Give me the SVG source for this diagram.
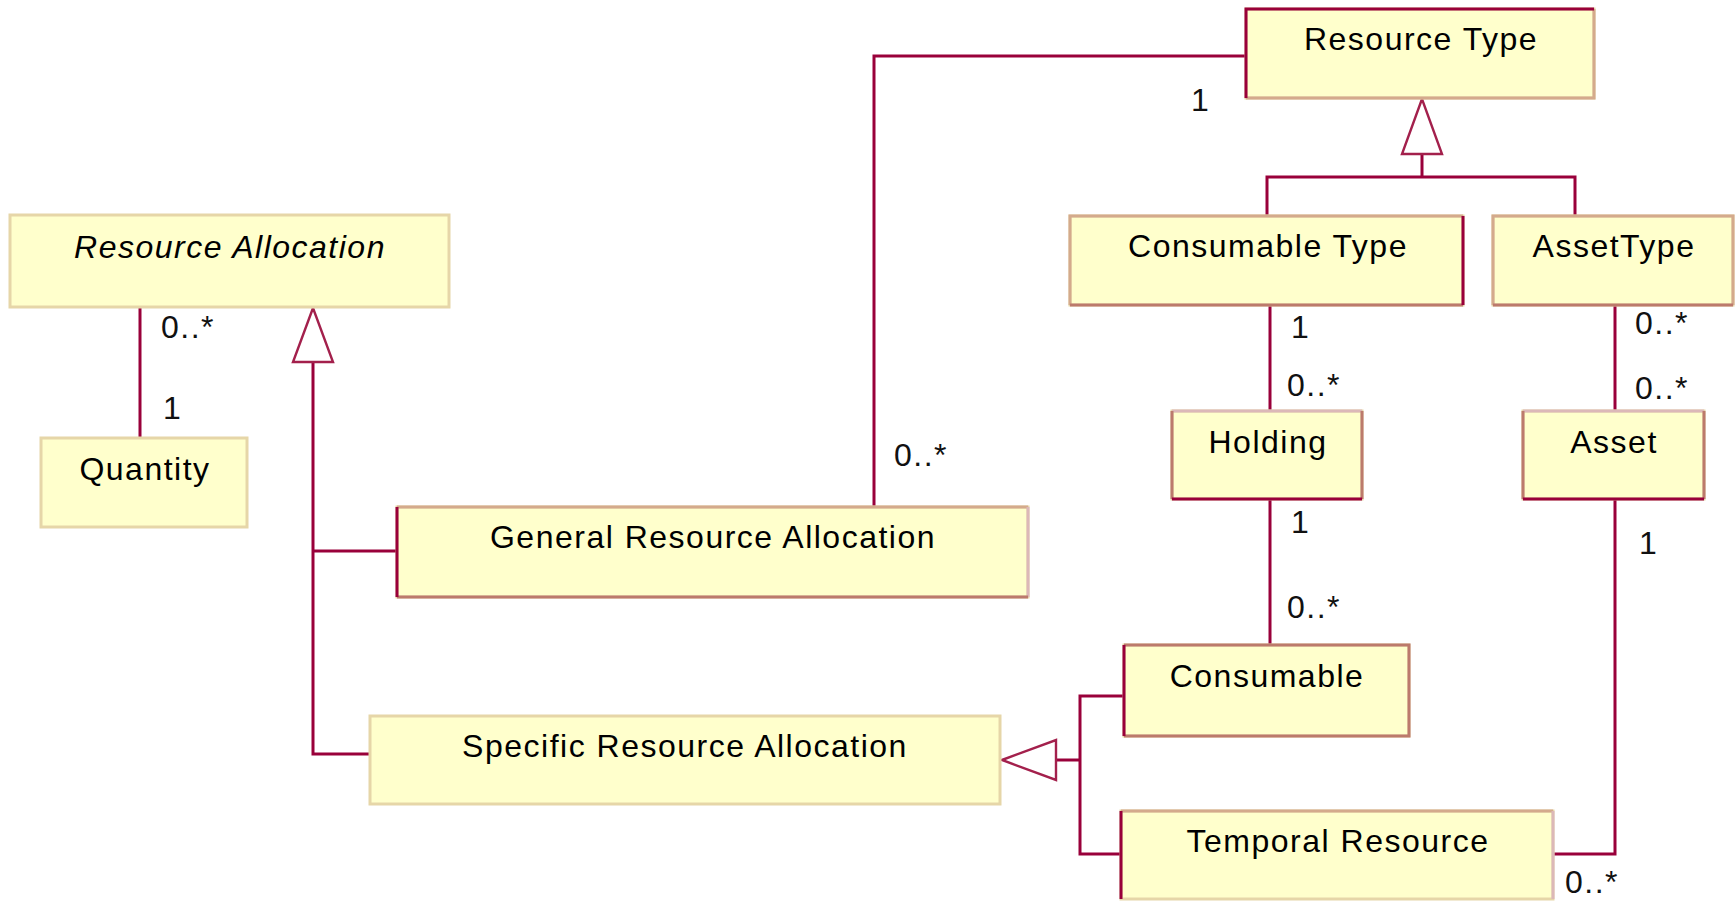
<svg xmlns="http://www.w3.org/2000/svg" width="1736" height="901" viewBox="0 0 1736 901">
<style>
  .box { fill: #ffffcc; stroke: #e6d6a8; stroke-width: 3; }
  .tan { stroke: #d4aa8c; stroke-width: 3; fill: none; }
  .rose { stroke: #bc7a6c; stroke-width: 3; fill: none; }
  .pink { stroke: #dcb8b8; stroke-width: 3; fill: none; }
  .red { stroke: #99003a; stroke-width: 3; fill: none; }
  .lbl { font-family: "Liberation Sans", Arial, sans-serif; font-size: 32px; letter-spacing: 1.5px; fill: #000; text-anchor: middle; }
  .mult { font-family: "Liberation Sans", Arial, sans-serif; font-size: 32px; letter-spacing: 1.5px; fill: #111; }
  .conn { stroke: #99003a; stroke-width: 3; fill: none; }
  .gen { stroke: #a3204c; stroke-width: 2.4; fill: #ffffff; stroke-linejoin: miter; }
</style>
<rect x="0" y="0" width="1736" height="901" fill="#ffffff"/>

<g id="connectors">
  <path class="conn" d="M140 307 V438"/>
  <path class="conn" d="M313 362 V754 H370"/>
  <path class="conn" d="M313 551 H397"/>
  <polygon class="gen" points="313,308 293,362 333,362"/>
  <path class="conn" d="M874 507 V56 H1246"/>
  <path class="conn" d="M1422 154 V177"/>
  <path class="conn" d="M1267 216 V177 H1575 V216"/>
  <polygon class="gen" points="1422,99 1402,154 1442,154"/>
  <path class="conn" d="M1270 305 V411"/>
  <path class="conn" d="M1270 499 V645"/>
  <path class="conn" d="M1615 305 V411"/>
  <path class="conn" d="M1615 499 V854 H1553"/>
  <path class="conn" d="M1056 760 H1080"/>
  <path class="conn" d="M1124 696 H1080 V854 H1121"/>
  <polygon class="gen" points="1002,760 1056,740 1056,780"/>

  <text class="mult" x="161" y="338">0..*</text>
  <text class="mult" x="163" y="419">1</text>
  <text class="mult" x="1191" y="111">1</text>
  <text class="mult" x="894" y="466">0..*</text>
  <text class="mult" x="1291" y="338">1</text>
  <text class="mult" x="1287" y="396">0..*</text>
  <text class="mult" x="1635" y="334">0..*</text>
  <text class="mult" x="1635" y="399">0..*</text>
  <text class="mult" x="1291" y="533">1</text>
  <text class="mult" x="1287" y="618">0..*</text>
  <text class="mult" x="1639" y="554">1</text>
  <text class="mult" x="1565" y="893">0..*</text>
</g>

<g id="resource-allocation">
  <rect class="box" x="10" y="215" width="439" height="92"/>
  <text class="lbl" x="230" y="258" font-style="italic">Resource Allocation</text>
</g>

<g id="quantity">
  <rect class="box" x="41" y="438" width="206" height="89"/>
  <text class="lbl" x="145" y="480">Quantity</text>
</g>

<g id="general-resource-allocation">
  <rect class="box" x="397" y="507" width="631" height="90"/>
  <path class="tan" d="M397 507 H1028"/>
  <path class="pink" d="M1028 507 V597"/>
  <path class="rose" d="M397 597 H1028"/>
  <path class="red" d="M397 507 V597"/>
  <text class="lbl" x="713" y="548">General Resource Allocation</text>
</g>

<g id="specific-resource-allocation">
  <rect class="box" x="370" y="716" width="630" height="88"/>
  <text class="lbl" x="685" y="757">Specific Resource Allocation</text>
</g>

<g id="resource-type">
  <rect class="box" x="1246" y="9" width="348" height="89"/>
  <path class="tan" d="M1594 9 V98 H1246"/>
  <path class="red" d="M1246 98 V9 H1594"/>
  <text class="lbl" x="1421" y="50">Resource Type</text>
</g>

<g id="consumable-type">
  <rect class="box" x="1070" y="216" width="393" height="89"/>
  <path class="tan" d="M1070 305 V216 H1463"/>
  <path class="rose" d="M1070 305 H1463"/>
  <path class="red" d="M1463 216 V305"/>
  <text class="lbl" x="1268" y="257">Consumable Type</text>
</g>

<g id="asset-type">
  <rect class="box" x="1493" y="216" width="240" height="89"/>
  <path class="tan" d="M1493 305 V216 H1733 V305"/>
  <path class="rose" d="M1493 305 H1733"/>
  <text class="lbl" x="1614" y="257">AssetType</text>
</g>

<g id="holding">
  <rect class="box" x="1172" y="411" width="190" height="88"/>
  <path class="pink" d="M1172 411 H1362"/>
  <path class="rose" d="M1172 411 V499 M1362 411 V499"/>
  <path class="red" d="M1172 499 H1362"/>
  <text class="lbl" x="1268" y="453">Holding</text>
</g>

<g id="asset">
  <rect class="box" x="1523" y="411" width="181" height="88"/>
  <path class="pink" d="M1523 411 H1704"/>
  <path class="rose" d="M1523 411 V499 M1704 411 V499"/>
  <path class="red" d="M1523 499 H1704"/>
  <text class="lbl" x="1614" y="453">Asset</text>
</g>

<g id="consumable">
  <rect class="box" x="1124" y="645" width="285" height="91"/>
  <path class="rose" d="M1124 645 H1409 V736 H1124"/>
  <path class="red" d="M1124 645 V736"/>
  <text class="lbl" x="1267" y="687">Consumable</text>
</g>

<g id="temporal-resource">
  <rect class="box" x="1121" y="811" width="432" height="88"/>
  <path class="tan" d="M1121 811 H1553"/>
  <path class="pink" d="M1553 811 V899"/>
  <path class="red" d="M1121 811 V899"/>
  <text class="lbl" x="1338" y="852">Temporal Resource</text>
</g>
</svg>
